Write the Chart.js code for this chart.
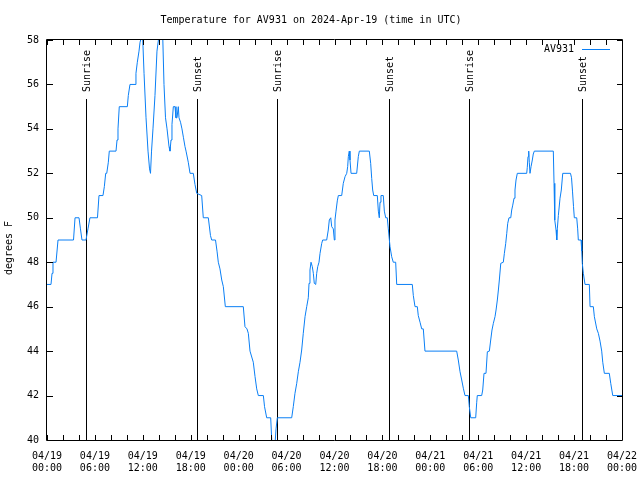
<!DOCTYPE html>
<html lang="en">
<head>
  <meta charset="UTF-8">
  <title>Temperature for AV931</title>
  <script src="https://cdn.jsdelivr.net/npm/chart.js"></script>
  <style>
    body { margin: 0; background: #fff; }
    canvas { display: block; }
  </style>
</head>
<body>
<canvas id="tempChart" width="640" height="480"></canvas>

<script>
// hours since 2024-04-19 00:00 UTC
const hours = [
  0, 0.50, 0.63, 0.75, 1.13, 1.38, 3.32, 3.51, 4.01, 4.19, 4.38, 4.88, 5.13, 5.38, 6.32, 6.51,
  7.01, 7.18, 7.35, 7.48, 7.68, 7.80, 7.89, 8.64, 8.77, 8.89, 9.05, 10.06, 10.18, 10.39, 11.02,
  11.14, 11.31, 11.52, 11.65, 11.96, 12.15, 12.40, 12.65, 12.84, 12.96, 13.09, 13.27, 13.52,
  13.77, 14.06, 14.28, 14.49, 14.65, 14.84, 15.03, 15.28, 15.40, 15.53, 15.65, 15.82, 16.03,
  16.15, 16.28, 16.44, 16.53, 16.72, 16.90, 17.09, 17.28, 17.41, 17.53, 17.69, 17.91, 18.32,
  18.53, 18.75, 19.37, 19.57, 20.20, 20.47, 20.62, 21.10, 21.29, 21.45, 21.66, 21.88, 22.08,
  22.33, 24.58, 24.79, 25.04, 25.21, 25.42, 25.83, 26.05, 26.26, 26.46, 27.09, 27.24, 27.51,
  28.01, 28.14, 28.30, 28.55, 28.68, 28.84, 30.64, 30.84, 31.05, 31.27, 31.47, 31.68, 31.89,
  32.09, 32.31, 32.52, 32.72, 32.81, 32.93, 33.06, 33.22, 33.35, 33.47, 33.65, 33.77, 33.90,
  34.06, 34.19, 34.40, 34.52, 35.02, 35.22, 35.35, 35.53, 35.65, 35.85, 35.98, 36.06, 36.19,
  36.35, 36.48, 36.90, 37.10, 37.32, 37.53, 37.65, 37.73, 37.85, 37.94, 38.07, 38.78, 38.98,
  39.11, 40.36, 40.53, 40.66, 40.78, 40.91, 41.36, 41.49, 41.61, 41.70, 41.82, 42.11, 42.24,
  42.41, 42.61, 42.74, 42.95, 43.16, 43.36, 43.66, 43.79, 45.74, 45.87, 46.08, 46.37, 46.49,
  46.71, 46.92, 47.12, 47.33, 51.30, 51.50, 51.72, 51.93, 52.13, 52.34, 52.76, 52.88, 53.06,
  53.68, 53.81, 53.88, 54.43, 54.56, 54.72, 54.97, 55.14, 55.39, 55.56, 55.72, 55.89, 56.10,
  56.23, 56.39, 56.52, 56.64, 56.82, 57.14, 57.27, 57.44, 57.57, 57.69, 57.85, 58.07, 58.19,
  58.32, 58.48, 58.60, 58.73, 58.89, 60.07, 60.14, 60.23, 60.32, 60.39, 60.48, 60.61, 60.77,
  60.89, 61.02, 63.40, 63.49, 63.58, 63.74, 63.83, 63.90, 64.03, 64.24, 64.40, 64.58, 65.55,
  65.68, 65.80, 65.93, 66.03, 66.33, 66.45, 66.53, 66.87, 66.96, 67.03, 67.16, 67.37, 67.91,
  68.00, 68.41, 68.54, 68.84, 69.04, 69.25, 69.46, 69.59, 69.79, 70.41, 70.59, 70.84, 72.00
];
const tempsF = [
  47, 47, 47.5, 48, 48, 49, 49, 50, 50, 49.5, 49, 49, 49.5, 50, 50, 51,
  51, 51.4, 52, 52, 52.5, 53, 53, 53, 53.5, 54, 55, 55, 55.5, 56, 56,
  56.5, 57, 57.5, 57.9, 58.3, 56.5, 54.5, 53, 52.2, 52, 53, 54, 55.5,
  57.5, 58.3, 59, 58.2, 56, 54.5, 54, 53.2, 53, 53.5, 54.2, 55, 55,
  54.5, 54.5, 55, 54.5, 54.3, 54, 53.6, 53.2, 53, 53, 52.5, 52, 52,
  51.5, 51.1, 51, 50, 50, 49.2, 49, 49, 48.5, 48, 47.7, 47.2, 46.9,
  46, 46, 45.1, 45, 44.8, 44, 43.5, 42.85, 42.3, 42, 42, 41.5, 41,
  41, 40, 39.5, 39.8, 40.5, 41, 41, 41.5, 42.1, 42.55, 43.07, 43.5, 44.05,
  44.8, 45.55, 46, 46.4, 47.05, 47.65, 48, 47.8, 47.5, 47.05, 47, 47.5, 47.8,
  48, 48.4, 48.85, 49, 49, 49.45, 49.9, 50, 49.6, 49.5, 49, 49.9, 50.3,
  50.76, 51, 51, 51.55, 51.85, 52, 52.3, 52.75, 53, 52.6, 52, 52, 52.75,
  53, 53, 52.45, 51.77, 51.25, 51, 51, 50.3, 50, 50.7, 51, 51, 50.3,
  50, 50, 49.5, 48.7, 48.25, 48, 48, 47, 47, 46.5, 46, 46, 45.6,
  45.3, 45, 45, 44, 44, 43.6, 43.07, 42.7, 42.33, 42, 42, 41.5, 41,
  41, 41.7, 42, 42, 42.25, 43, 43, 43.97, 44, 44.5, 44.95, 45.25, 45.55,
  45.85, 46.3, 46.75, 47.2, 47.95, 48, 48.4, 48.85, 49.3, 49.75, 50, 50, 50.35,
  50.57, 50.88, 51.25, 51.7, 52, 52, 52.27, 52.75, 53, 52.5, 52, 52.3, 52.6,
  52.87, 53, 53, 51.55, 49.9, 49.45, 49, 49.5, 50.1, 50.88, 51.25, 52, 52,
  51.8, 51.2, 50.5, 50, 50, 49.5, 49, 49, 48.5, 47.95, 47.5, 47, 47,
  46, 46, 45.55, 45, 44.8, 44.45, 44, 43.5, 43, 43, 42.55, 42, 42
];

const sunHours = [4.92, 18.82, 28.84, 42.86, 52.88, 66.95];
const sunNames = ['Sunrise', 'Sunset', 'Sunrise', 'Sunset', 'Sunrise', 'Sunset'];

const xTickDates = ['04/19', '04/19', '04/19', '04/19', '04/20', '04/20', '04/20', '04/20',
                    '04/21', '04/21', '04/21', '04/21', '04/22'];
const xTickTimes = ['00:00', '06:00', '12:00', '18:00'];

const FONT = { family: "'DejaVu Sans Mono', monospace", size: 10, weight: 'normal' };
const FONT_CSS = "10px 'DejaVu Sans Mono', monospace";
const LINE_COLOR = '#0a7ff5';

// gnuplot-like frame: border box, inward ticks, sunrise/sunset markers, key, y label
const gnuplotFrame = {
  id: 'gnuplotFrame',
  beforeDatasetsDraw(chart) {
    const { ctx, chartArea, scales } = chart;
    ctx.save();
    ctx.strokeStyle = '#000';
    ctx.lineWidth = 1;
    ctx.fillStyle = '#000';
    ctx.font = FONT_CSS;
    sunHours.forEach((h, i) => {
      const x = Math.round(scales.x.getPixelForValue(h)) + 0.5;
      ctx.beginPath();
      ctx.moveTo(x, 99);
      ctx.lineTo(x, chartArea.bottom);
      ctx.stroke();
      ctx.save();
      ctx.translate(x + 1, 92);
      ctx.rotate(-Math.PI / 2);
      ctx.textAlign = 'left';
      ctx.textBaseline = 'middle';
      ctx.fillText(sunNames[i], 0, 0);
      ctx.restore();
    });
    ctx.restore();
  },
  afterDatasetsDraw(chart) {
    const { ctx, chartArea: a, scales } = chart;
    ctx.save();
    ctx.strokeStyle = '#000';
    ctx.lineWidth = 1;
    ctx.beginPath();
    ctx.rect(Math.round(a.left) - 0.5, Math.round(a.top) - 0.5,
             Math.round(a.right - a.left) + 1, Math.round(a.bottom - a.top) + 1);
    ctx.stroke();
    ctx.beginPath();
    scales.x.ticks.forEach(t => {
      const x = Math.round(scales.x.getPixelForValue(t.value)) + 0.5;
      ctx.moveTo(x, a.bottom); ctx.lineTo(x, a.bottom - 5);
      ctx.moveTo(x, a.top); ctx.lineTo(x, a.top + 5);
    });
    scales.y.ticks.forEach(t => {
      const y = Math.round(scales.y.getPixelForValue(t.value)) + 0.5;
      ctx.moveTo(a.left, y); ctx.lineTo(a.left + 6, y);
      ctx.moveTo(a.right, y); ctx.lineTo(a.right - 5, y);
    });
    ctx.stroke();

    ctx.font = FONT_CSS;
    ctx.fillStyle = '#000';

    // y axis label
    ctx.save();
    ctx.translate(9, 248);
    ctx.rotate(-Math.PI / 2);
    ctx.textAlign = 'center';
    ctx.textBaseline = 'middle';
    ctx.fillText('degrees F', 0, 0);
    ctx.restore();

    // key
    ctx.textAlign = 'right';
    ctx.textBaseline = 'middle';
    ctx.fillText(chart.data.datasets[0].label, 574, 49);
    ctx.strokeStyle = LINE_COLOR;
    ctx.beginPath();
    ctx.moveTo(582, 49.5);
    ctx.lineTo(610, 49.5);
    ctx.stroke();
    ctx.restore();
  }
};

new Chart(document.getElementById('tempChart'), {
  type: 'line',
  data: {
    datasets: [{
      label: 'AV931',
      data: hours.map((h, i) => ({ x: h, y: tempsF[i] })),
      borderColor: LINE_COLOR,
      borderWidth: 1,
      pointRadius: 0,
      tension: 0,
      fill: false
    }]
  },
  options: {
    responsive: false,
    animation: false,
    layout: { padding: { top: 0, right: 18, left: 0, bottom: 0 } },
    plugins: {
      legend: { display: false },
      tooltip: { enabled: false },
      title: {
        display: true,
        text: 'Temperature for AV931 on 2024-Apr-19 (time in UTC)',
        color: '#000',
        font: FONT,
        padding: { top: 14, bottom: 14 }
      }
    },
    scales: {
      x: {
        type: 'linear',
        min: 0,
        max: 72,
        afterFit(s) { s.height = 40; s.paddingLeft = 0; s.paddingRight = 0; },
        grid: { display: false, drawTicks: false },
        border: { display: false },
        ticks: {
          stepSize: 2,
          autoSkip: false,
          maxRotation: 0,
          minRotation: 0,
          padding: 10,
          color: '#000',
          font: FONT,
          callback(v) {
            if (v % 6 !== 0) return '';
            return [xTickDates[v / 6], xTickTimes[(v / 6) % 4]];
          }
        }
      },
      y: {
        min: 40,
        max: 58,
        afterFit(s) { s.width = 47; s.paddingTop = 0; s.paddingBottom = 0; },
        grid: { display: false, drawTicks: false },
        border: { display: false },
        ticks: { stepSize: 2, padding: 8, color: '#000', font: FONT }
      }
    }
  },
  plugins: [gnuplotFrame]
});
</script>
</body>
</html>
